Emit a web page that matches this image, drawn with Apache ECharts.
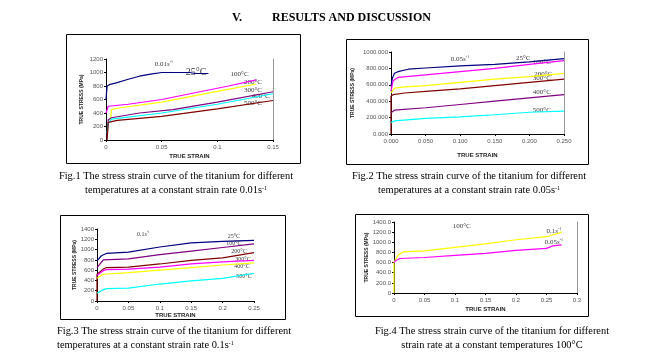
<!DOCTYPE html>
<html><head><meta charset="utf-8">
<script src="https://cdn.jsdelivr.net/npm/echarts@6/dist/echarts.min.js"></script>
<style>html,body{margin:0;padding:0;background:#fff}#c{width:654px;height:357px}</style>
</head><body><div id="c"></div>
<script>
// ---------- DATA ----------
// Fig.1 : strain rate 0.01 s^-1  ([strain, stress MPa])
const f1_25  = [[0,600],[0.001,800],[0.003,820],[0.01,850],[0.02,900],[0.03,945],[0.04,975],[0.05,1000],[0.075,1000],[0.08,985],[0.092,985]];
const f1_100 = [[0,400],[0.002,500],[0.02,530],[0.05,600],[0.08,700],[0.11,800],[0.135,890]];
const f1_200 = [[0.004,300],[0.005,450],[0.01,470],[0.05,560],[0.1,720],[0.135,830]];
const f1_300 = [[0.001,50],[0.002,300],[0.005,330],[0.03,400],[0.06,450],[0.1,560],[0.15,715]];
const f1_400 = [[0.001,100],[0.002,250],[0.005,310],[0.05,400],[0.1,530],[0.15,685]];
const f1_500 = [[0.001,0],[0.002,260],[0.01,290],[0.05,350],[0.1,460],[0.15,585]];
// Fig.2 : strain rate 0.05 s^-1
const f2_25  = [[0,580],[0.002,680],[0.005,740],[0.01,760],[0.025,790],[0.05,805],[0.1,830],[0.15,850],[0.2,880],[0.25,920]];
const f2_100 = [[0,520],[0.003,650],[0.01,690],[0.05,720],[0.1,760],[0.15,800],[0.2,850],[0.25,895]];
const f2_200 = [[0,500],[0.005,560],[0.02,575],[0.05,590],[0.1,630],[0.15,670],[0.2,700],[0.25,740]];
const f2_300 = [[0,0],[0,460],[0.003,480],[0.02,500],[0.05,520],[0.1,550],[0.15,590],[0.2,630],[0.25,670]];
const f2_400 = [[0,260],[0.005,290],[0.05,320],[0.1,360],[0.15,400],[0.2,440],[0.25,480]];
const f2_500 = [[0,140],[0.005,160],[0.05,190],[0.1,210],[0.15,235],[0.2,265],[0.25,280]];
// Fig.3 : strain rate 0.1 s^-1
const f3_25  = [[0,780],[0.007,880],[0.015,925],[0.05,950],[0.1,1050],[0.15,1130],[0.2,1160],[0.25,1180]];
const f3_100 = [[0,650],[0.01,800],[0.05,820],[0.1,900],[0.15,970],[0.2,1040],[0.25,1110]];
const f3_200 = [[0,0],[0,520],[0.01,620],[0.015,650],[0.05,660],[0.1,720],[0.15,790],[0.2,840],[0.25,940]];
const f3_300 = [[0,500],[0.01,590],[0.015,610],[0.05,620],[0.1,660],[0.15,720],[0.2,760],[0.25,790]];
const f3_400 = [[0,440],[0.01,520],[0.05,550],[0.1,600],[0.15,650],[0.2,700],[0.25,740]];
const f3_500 = [[0,150],[0.01,220],[0.015,240],[0.05,250],[0.1,330],[0.15,390],[0.2,440],[0.25,540]];
// Fig.4 : constant 100°C
const f4_01  = [[0,0],[0,600],[0.002,650],[0.007,750],[0.015,810],[0.05,830],[0.1,900],[0.15,970],[0.2,1050],[0.25,1110],[0.27,1180],[0.275,1205]];
const f4_005 = [[0,600],[0.003,640],[0.01,680],[0.05,700],[0.1,740],[0.15,780],[0.2,840],[0.25,880],[0.26,930],[0.275,950]];

// annotation texts and their data positions
const f1_notes = [['rate','0.01','s','-1',[0.052,1122]],['t','25°C',[0.081,1004],1],['t','100°C',[0.120,974]],['t','200°C',[0.132,856]],['t','300°C',[0.132,738]],['t','400°C',[0.139,650]],['t','500°C',[0.132,546]]];
const f2_notes = [['rate','0.05','s','-1',[0.0997,911]],['t','25°C',[0.191,923]],['t','100°C',[0.218,875]],['t','200°C',[0.220,729]],['t','300°C',[0.218,680]],['t','400°C',[0.218,510]],['t','500°C',[0.218,292]]];
const f3_notes = [['rate','0.1','s','-1',[0.0736,1302]],['t','25°C',[0.218,1246]],['t','100°C',[0.218,1128]],['t','200°C',[0.226,972]],['t','300°C',[0.2325,814]],['t','400°C',[0.231,677]],['t','500°C',[0.234,482]]];
const f4_notes = [['t','100°C',[0.111,1326]],['rate','0.1','s','-1',[0.262,1227]],['rate','0.05','s','-1',[0.262,1008]]];

const captions = [
  ['Fig.1 The stress strain curve of the titanium for different','temperatures at a constant strain rate 0.01s','-1'],
  ['Fig.2 The stress strain curve of the titanium for different','temperatures at a constant strain rate 0.05s','-1'],
  ['Fig.3 The stress strain curve of the titanium for different','temperatures at a constant strain rate 0.1s','-1'],
  ['Fig.4 The stress strain curve of the titanium for different','strain rate at a constant temperatures 100°C','']
];

// ---------- STYLE ----------
const NAVY='#000080', MAG='#FF00FF', YEL='#FFFF00', PUR='#800080', CYA='#00FFFF', BRN='#800000';
const grids = [
  {left:106,top:59,width:167,height:81},
  {left:391,top:52,width:173,height:82},
  {left:97,top:229,width:157,height:72},
  {left:394,top:222,width:183,height:71}
];
const frames = [[66,34,234,129],[346,39,242,125],[60,215,225,104],[355,214,233,102]];
const SANS='Liberation Sans, Arial, sans-serif', SERIF='Liberation Serif, Times New Roman, serif';

function xAx(i,max,intv,fmt,gap){return {gridIndex:i,type:'value',min:0,max:max,interval:intv,
  name:'TRUE STRAIN',nameLocation:'middle',nameGap:gap,
  nameTextStyle:{fontFamily:SANS,fontSize:6,fontWeight:'bold',color:'#222'},
  axisLine:{lineStyle:{color:'#000',width:1}},axisTick:{show:true,length:2,lineStyle:{color:'#000'}},
  axisLabel:{fontFamily:SANS,fontSize:6,color:'#555',margin:4,formatter:fmt},splitLine:{show:false}};}
function yAx(i,max,intv,fmt,gap){return {gridIndex:i,type:'value',min:0,max:max,interval:intv,
  name:'TRUE STRESS (MPa)',nameLocation:'middle',nameGap:gap,nameRotate:90,
  nameTextStyle:{fontFamily:SANS,fontSize:5,fontWeight:'bold',color:'#222'},
  axisLine:{show:true,lineStyle:{color:'#000',width:1}},axisTick:{show:true,length:2,lineStyle:{color:'#000'}},
  axisLabel:{fontFamily:SANS,fontSize:6,color:'#555',margin:3,formatter:fmt},splitLine:{show:false}};}
function rAx(i,max){return {gridIndex:i,type:'value',min:0,max:max,position:'right',
  axisLine:{show:true,lineStyle:{color:'#999',width:1}},axisTick:{show:false},axisLabel:{show:false},splitLine:{show:false}};}

function line(i,data,color){return {type:'line',xAxisIndex:i,yAxisIndex:i,data:data,showSymbol:false,symbol:'none',
  lineStyle:{color:color,width:1.2},silent:true,animation:false};}
function notes(i,list,fs){
  const d = list.map(n=>{
    if(n[0]==='rate') return {value:n[4],label:{formatter:'{a|'+n[1]+'}{i|'+n[2]+'}{s|'+n[3]+'}'}};
    return {value:n[2],label:{formatter:'{'+(n[3]?'b':'a')+'|'+n[1]+'}'}};
  });
  return {type:'scatter',xAxisIndex:i,yAxisIndex:i,symbolSize:0,data:d,silent:true,animation:false,
    label:{show:true,position:'inside',color:'#000',
      rich:{a:{fontFamily:SERIF,fontSize:fs,color:'#000'},b:{fontFamily:SERIF,fontSize:fs+3,color:'#000'},
            i:{fontFamily:SERIF,fontSize:fs,fontStyle:'italic',color:'#000'},s:{fontFamily:SERIF,fontSize:fs-3,color:'#000',padding:[0,0,fs-3,0]}}}};
}

const yFmt0 = v=>String(v), yFmt3 = v=>v.toFixed(3), yFmt1 = v=>v===0?'0':v.toFixed(1), xFmt3=v=>v.toFixed(3), xFmt=v=>String(v);

const graphic = [];
frames.forEach(f=>graphic.push({type:'rect',shape:{x:f[0]+0.5,y:f[1]+0.5,width:f[2],height:f[3]},style:{fill:null,stroke:'#000',lineWidth:1},silent:true}));
graphic.push({type:'text',left:232,top:12,style:{text:'V.',font:'bold 12px '+SERIF,fill:'#000'}});
graphic.push({type:'text',left:272,top:12,style:{text:'RESULTS AND DISCUSSION',font:'bold 12px '+SERIF,fill:'#000'}});
const capPos = [[176,171,'center'],[469,171,'center'],[57,326,'left'],[492,326,'center']];
captions.forEach((c,k)=>{
  const p=capPos[k];
  graphic.push({type:'text',x:p[0],y:p[1],style:{text:c[0],font:'10.4px '+SERIF,fill:'#000',align:p[2]}});
  graphic.push({type:'text',x:p[0],y:p[1]+14,style:{text:'{m|'+c[1]+'}'+(c[2]?'{s|'+c[2]+'}':''),align:p[2],
    rich:{m:{font:'10.4px '+SERIF,fill:'#000'},s:{font:'6px '+SERIF,fill:'#000',padding:[0,0,5,0]}}}});
});

const option = {
  backgroundColor:'#fff', animation:false, graphic:graphic,
  grid: grids,
  xAxis:[xAx(0,0.15,0.05,xFmt,13),xAx(1,0.25,0.05,xFmt3,18),xAx(2,0.25,0.05,xFmt,11),xAx(3,0.3,0.05,xFmt,13)],
  yAxis:[yAx(0,1200,200,yFmt0,22),yAx(1,1000,200,yFmt3,36),yAx(2,1400,200,yFmt0,20),yAx(3,1400,200,yFmt1,22),
         rAx(0,1200),rAx(1,1000),rAx(3,1400)],
  series:[
    line(0,f1_25,NAVY),line(0,f1_100,MAG),line(0,f1_200,YEL),line(0,f1_300,PUR),line(0,f1_400,CYA),line(0,f1_500,BRN),
    line(1,f2_25,NAVY),line(1,f2_100,MAG),line(1,f2_200,YEL),line(1,f2_300,BRN),line(1,f2_400,PUR),line(1,f2_500,CYA),
    line(2,f3_25,NAVY),line(2,f3_100,PUR),line(2,f3_200,BRN),line(2,f3_300,MAG),line(2,f3_400,YEL),line(2,f3_500,CYA),
    line(3,f4_01,YEL),line(3,f4_005,MAG),
    notes(0,f1_notes,7),notes(1,f2_notes,7),notes(2,f3_notes,6),notes(3,f4_notes,7)
  ]
};
const chart = echarts.init(document.getElementById('c'),null,{renderer:'canvas'});
chart.setOption(option);
</script></body></html>
